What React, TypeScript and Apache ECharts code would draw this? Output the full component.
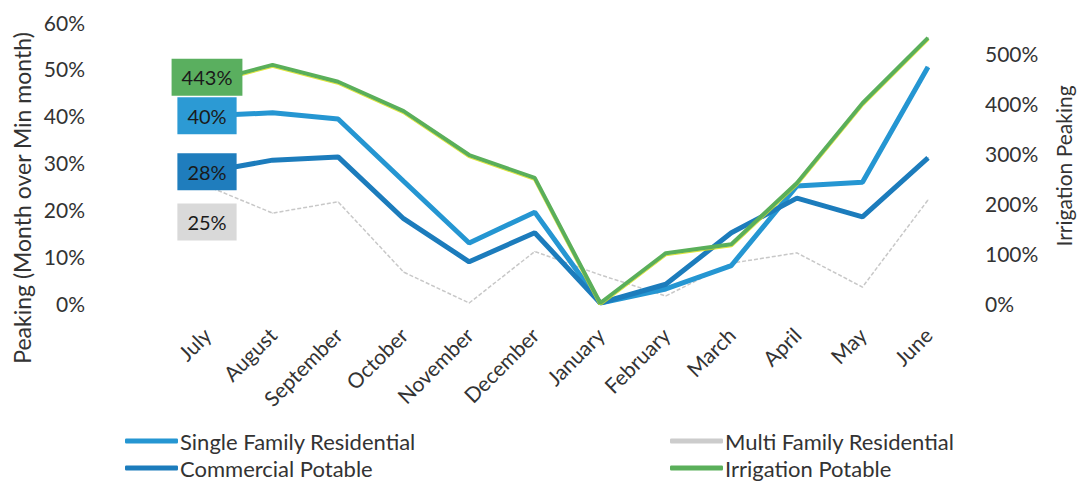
import React, { useEffect, useRef } from 'react';
import * as echarts from 'echarts';

const months = ['July', 'August', 'September', 'October', 'November', 'December', 'January', 'February', 'March', 'April', 'May', 'June'];
const singleFamily = [40, 40.6, 39.3, 26, 12.8, 19.4, 0, 3, 8, 25, 25.8, 50.4];
const commercial = [28, 30.5, 31.2, 18, 8.8, 15, 0, 4, 15, 22.4, 18.4, 31];
const multiFamily = [25, 19.2, 21.6, 6.6, 0, 11, 6, 1.5, 8.5, 10.7, 3.4, 22];
const irrigation = [443, 478, 444, 385, 297, 251, 0, 100, 118, 241, 401, 532];

const FONT = 'Lato, "Open Sans", sans-serif';

function withFirstLabel(values: number[], bg: string, offset: number[]) {
  return values.map((v, i) =>
    i === 0
      ? {
          value: v,
          label: {
            show: true,
            position: 'inside',
            offset,
            formatter: (p: any) => Math.round(p.value) + '%',
            backgroundColor: bg,
            padding: [9, 10, 8, 10],
            color: '#1a1a1a',
            fontSize: 20,
            fontFamily: FONT,
          },
        }
      : v
  );
}

export default function App() {
  const ref = useRef<HTMLDivElement>(null);
  useEffect(() => {
    if (!ref.current) return;
    const chart = echarts.init(ref.current, undefined, { renderer: 'svg' });
    const legendText = { fontSize: 22, color: '#333', fontFamily: FONT, padding: [0, 0, 0, -3] };
    chart.setOption({
      animation: false,
      backgroundColor: '#ffffff',
      textStyle: { fontFamily: FONT },
      grid: { left: 207, right: 150, top: 22, bottom: 184 },
      legend: [
        {
          orient: 'vertical',
          left: 125,
          top: 430,
          padding: 0,
          itemWidth: 53,
          itemHeight: 5,
          itemGap: 5,
          icon: 'roundRect',
          textStyle: legendText,
          data: ['Single Family Residential', 'Commercial Potable'],
        },
        {
          orient: 'vertical',
          left: 670,
          top: 430,
          padding: 0,
          itemWidth: 53,
          itemHeight: 5,
          itemGap: 5,
          icon: 'roundRect',
          textStyle: legendText,
          data: ['Multi Family Residential', 'Irrigation Potable'],
        },
      ],
      xAxis: {
        type: 'category',
        data: months,
        boundaryGap: false,
        axisLine: { show: false },
        axisTick: { show: false },
        axisLabel: { rotate: 45, margin: 28, fontSize: 21, color: '#333', fontFamily: FONT },
      },
      yAxis: [
        {
          type: 'value',
          min: 0,
          max: 60,
          interval: 10,
          splitLine: { show: false },
          axisLine: { show: false },
          axisTick: { show: false },
          axisLabel: { formatter: '{value}%', margin: 122, fontSize: 21, color: '#333', fontFamily: FONT },
        },
        {
          type: 'value',
          min: 0,
          max: 564,
          interval: 100,
          position: 'right',
          splitLine: { show: false },
          axisLine: { show: false },
          axisTick: { show: false },
          axisLabel: { formatter: '{value}%', margin: 57, fontSize: 21, color: '#333', fontFamily: FONT, showMaxLabel: false },
        },
      ],
      graphic: [
        {
          type: 'text',
          x: 22,
          y: 198,
          rotation: Math.PI / 2,
          style: {
            text: 'Peaking (Month over Min month)',
            fontSize: 23,
            fontFamily: FONT,
            fill: '#333',
            textAlign: 'center',
            textVerticalAlign: 'middle',
          },
        },
        {
          type: 'text',
          x: 1063,
          y: 166,
          rotation: Math.PI / 2,
          style: {
            text: 'Irrigation Peaking',
            fontSize: 21,
            fontFamily: FONT,
            fill: '#333',
            textAlign: 'center',
            textVerticalAlign: 'middle',
          },
        },
      ],
      series: [
        {
          name: 'Single Family Residential',
          type: 'line',
          yAxisIndex: 0,
          data: withFirstLabel(singleFamily, '#2c9ad4', [0, 0]),
          symbol: 'circle',
          symbolSize: 1,
          color: '#2596d2',
          lineStyle: { width: 5, color: '#2596d2' },
          z: 3,
        },
        {
          name: 'Commercial Potable',
          type: 'line',
          yAxisIndex: 0,
          data: withFirstLabel(commercial, '#1f7dbd', [0, 0]),
          symbol: 'circle',
          symbolSize: 1,
          color: '#1c7cbc',
          lineStyle: { width: 5, color: '#1c7cbc' },
          z: 3,
        },
        {
          name: 'Multi Family Residential',
          type: 'line',
          yAxisIndex: 0,
          data: withFirstLabel(multiFamily, '#d9d9d9', [0, 36]),
          symbol: 'circle',
          symbolSize: 1,
          color: '#cccccc',
          lineStyle: { width: 1.5, color: '#c8c8c8', type: [4, 2] },
          z: 2,
        },
        {
          name: 'Irrigation Potable',
          type: 'line',
          yAxisIndex: 1,
          data: withFirstLabel(irrigation, '#5aaf5f', [0, -5]),
          symbol: 'circle',
          symbolSize: 1,
          color: '#5aaf5a',
          lineStyle: { width: 4, color: '#5aaf5a', shadowColor: 'rgba(215,225,0,0.8)', shadowOffsetY: 1, shadowBlur: 0 },
          z: 4,
        },
      ],
    });
    return () => chart.dispose();
  }, []);
  return <div ref={ref} style={{ position: 'fixed', left: 0, top: 0, width: 1078, height: 487 }} />;
}
